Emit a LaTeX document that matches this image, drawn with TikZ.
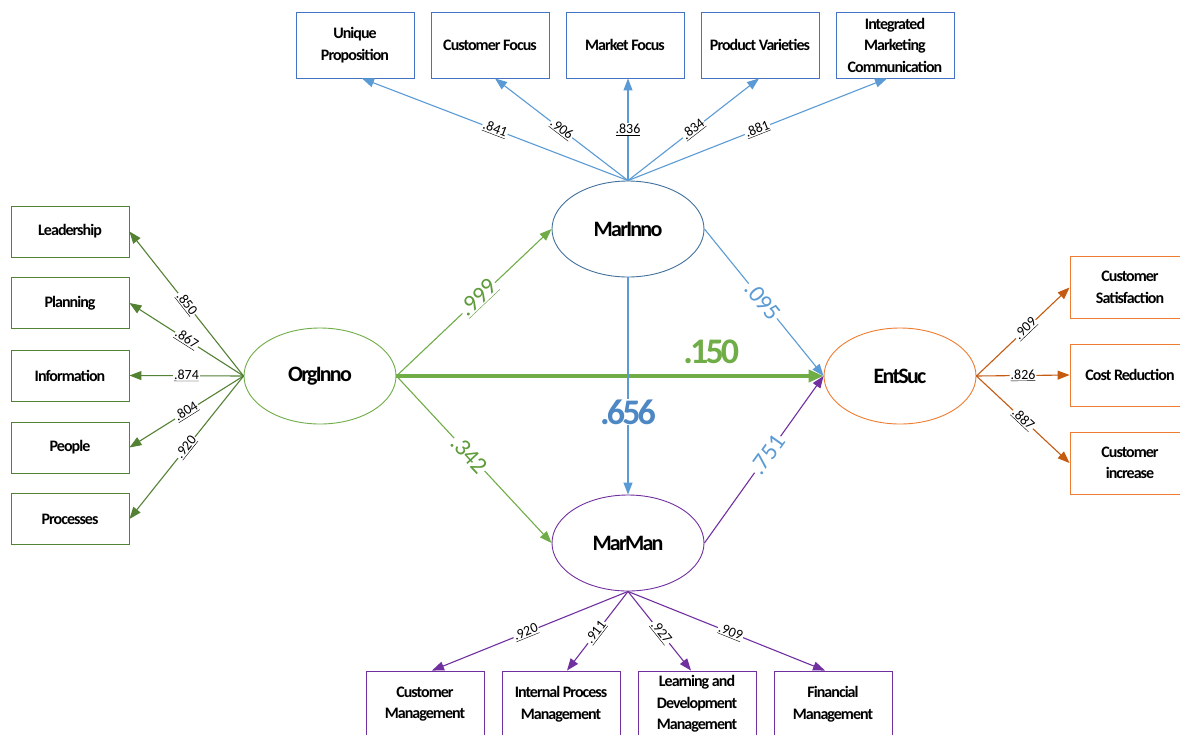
\documentclass[tikz,border=0pt]{standalone}
\usepackage{fontspec}
\setmainfont{Carlito}
\newfontfamily\boxfont{Carlito}[LetterSpace=-6]
\newfontfamily\ellfont{Carlito}[LetterSpace=-8]
\newfontfamily\numfont{Carlito}[LetterSpace=-8]
\usetikzlibrary{arrows.meta,calc,shapes.geometric}
\definecolor{cblue}{HTML}{5B9BD5}
\definecolor{cblueb}{HTML}{4472C4}
\definecolor{cbluee}{HTML}{41719C}
\definecolor{cnum}{HTML}{4E88C4}
\definecolor{cgreen}{HTML}{70AD47}
\definecolor{cgreend}{HTML}{548235}
\definecolor{cgreent}{HTML}{5E9B3A}
\definecolor{cpurple}{HTML}{7030A0}
\definecolor{corange}{HTML}{C55A11}
\definecolor{corangel}{HTML}{ED7D31}
\begin{document}
\begin{tikzpicture}[x=1pt,y=-1pt,
  bx/.style={rectangle, draw, line width=0.9pt, minimum width=118pt, minimum height=66pt, inner sep=0pt, align=center, fill=white, font=\boxfont\bfseries\fontsize{16}{21.5}\selectfont},
  lbx/.style={bx, minimum height=51pt},
  rbx/.style={bx, minimum width=120pt, minimum height=62pt},
  ell/.style={ellipse, draw, line width=0.9pt, minimum width=152pt, minimum height=96pt, inner sep=0pt, fill=white, font=\ellfont\bfseries\fontsize{22}{22}\selectfont},
  arr/.style={-{Triangle[length=12pt,width=9pt]}, line width=1.1pt},
  lab/.style={sloped, fill=white, inner sep=1pt, text=black, font=\fontsize{14}{14}\selectfont},
  big/.style={sloped, fill=white, inner sep=1pt, font=\fontsize{24}{24}\selectfont},
  bold/.style={inner sep=1pt, font=\numfont\bfseries\fontsize{36}{36}\selectfont}
]
\useasboundingbox (0,0) rectangle (1180,734);
\fill[white] (0,0) rectangle (1180,734);
\clip (0,0) rectangle (1180,734);

% latent variables
\node[ell, draw=cbluee] (mi) at (628,229) {MarInno};
\node[ell, draw=cpurple] (mm) at (628,543) {MarMan};
\node[ell, draw=cgreen] (oi) at (320,376) {OrgInno};
\node[ell, draw=corangel] (es) at (900,376) {EntSuc};

% top indicators
\node[bx, draw=cblueb] (up) at (355,45) {Unique\\Proposition};
\node[bx, draw=cblueb] (cf) at (490,45) {Customer Focus};
\node[bx, draw=cblueb] (mf) at (625,45) {Market Focus};
\node[bx, draw=cblueb] (pv) at (760,45) {Product Varieties};
\node[bx, draw=cblueb] (imc) at (895,45) {Integrated\\Marketing\\Communication};

% left indicators
\node[lbx, draw=cgreend] (ld) at (70,231.5) {Leadership};
\node[lbx, draw=cgreend] (pl) at (70,303) {Planning};
\node[lbx, draw=cgreend] (inf) at (70,375.5) {Information};
\node[lbx, draw=cgreend] (pe) at (70,447.5) {People};
\node[lbx, draw=cgreend] (pr) at (70,519) {Processes};

% right indicators
\node[rbx, draw=corangel] (cs) at (1130,287.5) {Customer\\Satisfaction};
\node[rbx, draw=corangel] (cr) at (1130,375) {Cost Reduction};
\node[rbx, draw=corangel] (ci) at (1130,463) {Customer\\increase};

% bottom indicators
\node[bx, draw=cpurple] (cm) at (425,704) {Customer\\Management};
\node[bx, draw=cpurple] (ipm) at (561,704) {Internal Process\\Management};
\node[bx, draw=cpurple] (ldm) at (697,704) {Learning and\\Development\\Management};
\node[bx, draw=cpurple] (fm) at (833,704) {Financial\\Management};

% top loadings
\draw[arr, cblue] (mi.north) -- node[lab]{\underline{.841}} ($(up.south)+(7,0)$);
\draw[arr, cblue] (mi.north) -- node[lab]{\underline{.906}} ($(cf.south)+(5,0)$);
\draw[arr, cblue] (mi.north) -- node[lab, sloped=false]{\underline{.836}} ($(mf.south)+(3,0)$);
\draw[arr, cblue] (mi.north) -- node[lab]{\underline{.834}} ($(pv.south)+(-1,0)$);
\draw[arr, cblue] (mi.north) -- node[lab]{\underline{.881}} ($(imc.south)+(-8,0)$);

% left loadings
\draw[arr, cgreend] (oi.west) -- node[lab]{\underline{.850}} (ld.east);
\draw[arr, cgreend] (oi.west) -- node[lab]{\underline{.867}} (pl.east);
\draw[arr, cgreend] (oi.west) -- node[lab]{\underline{.874}} (inf.east);
\draw[arr, cgreend] (oi.west) -- node[lab]{\underline{.804}} (pe.east);
\draw[arr, cgreend] (oi.west) -- node[lab]{\underline{.920}} (pr.east);

% right loadings
\draw[arr, corange] (es.east) -- node[lab, pos=0.53]{\underline{.909}} (cs.west);
\draw[arr, corange] (es.east) -- node[lab]{\underline{.826}} (cr.west);
\draw[arr, corange] (es.east) -- node[lab]{\underline{.887}} (ci.west);

% bottom loadings
\draw[arr, cpurple] (mm.south) -- node[lab, pos=0.52]{\underline{.920}} ($(cm.north)+(7,0)$);
\draw[arr, cpurple] (mm.south) -- node[lab, pos=0.52]{\underline{.911}} ($(ipm.north)+(6,0)$);
\draw[arr, cpurple] (mm.south) -- node[lab, pos=0.52]{\underline{.927}} ($(ldm.north)+(-6,0)$);
\draw[arr, cpurple] (mm.south) -- node[lab, pos=0.52]{\underline{.909}} ($(fm.north)+(-8,0)$);

% structural paths
\draw[arr, cgreen] (oi.east) -- node[big, pos=0.53, text=cgreent]{\underline{.999}} (mi.west);
\draw[arr, cgreen] (oi.east) -- node[big, pos=0.47, text=cgreent]{.342} (mm.west);
\draw[-{Triangle[length=15pt,width=12pt]}, line width=4pt, cgreen] (oi.east) -- node[bold, pos=0.737, above=9pt, text=cgreen]{.150} (es.west);
\draw[arr, cblue] (mi.south) -- node[bold, pos=0.62, fill=white, text=cnum]{.656} (mm.north);
\draw[arr, cblue] (mi.east) -- node[big, pos=0.49, text=cblue]{.095} (es.west);
\draw[arr, cpurple] (mm.east) -- node[big, pos=0.53, text=cblue]{.751} (es.west);
\end{tikzpicture}
\end{document}
